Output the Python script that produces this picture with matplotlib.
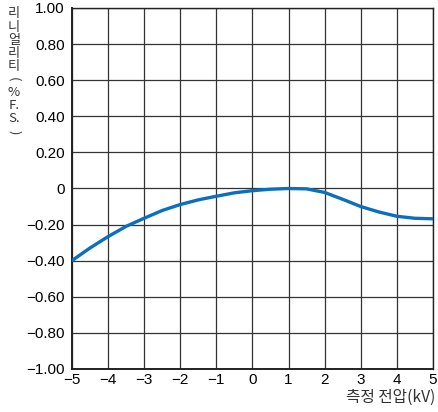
import matplotlib.pyplot as plt

plt.rcParams['font.family'] = ['Liberation Sans', 'Noto Sans CJK KR', 'DejaVu Sans']

# 측정 전압 (kV) / 리니얼리티 (%F.S.)
volt = [-5, -4.5, -4, -3.5, -3, -2.5, -2, -1.5, -1, -0.5, 0, 0.5, 1, 1.5, 2, 2.5, 3, 3.5, 4, 4.5, 5]
lin = [-0.40, -0.33, -0.267, -0.21, -0.165, -0.122, -0.089, -0.063, -0.043, -0.024, -0.012,
       -0.004, 0.0, -0.002, -0.022, -0.06, -0.10, -0.13, -0.154, -0.165, -0.168]

xticks = [-5, -4, -3, -2, -1, 0, 1, 2, 3, 4, 5]
xlabels = ['\u22125', '\u22124', '\u22123', '\u22122', '\u22121', '0', '1', '2', '3', '4', '5']
yticks = [1.0, 0.8, 0.6, 0.4, 0.2, 0, -0.2, -0.4, -0.6, -0.8, -1.0]
ylabels = ['1.00', '0.80', '0.60', '0.40', '0.20', '0', '\u22120.20', '\u22120.40',
           '\u22120.60', '\u22120.80', '\u22121.00']
ylab_chars = ['리', '니', '얼', '리', '티', '(', '%', 'F.', 'S.', ')']

fig = plt.figure(figsize=(4.38, 4.12), dpi=100)
ax = fig.add_axes([0.164, 0.1044, 0.8246, 0.8762])

ax.plot(volt, lin, color='#0a6fbf', lw=2.4, solid_capstyle='butt', zorder=3)

ax.set_xlim(-5, 5)
ax.set_ylim(-1, 1)
ax.set_xticks(xticks)
ax.set_xticklabels(xlabels)
ax.set_yticks(yticks)
ax.set_yticklabels(ylabels)
ax.tick_params(length=0, labelsize=11, pad=5)
ax.tick_params(axis='x', pad=3)
ax.grid(True, color='#333333', lw=0.9)
for s in ax.spines.values():
    s.set_color('#222222')
    s.set_linewidth(1.0)
ax.spines['left'].set_linewidth(1.4)
ax.spines['bottom'].set_linewidth(1.4)

fig.text(0.995, 0.014, '측정 전압(kV)', ha='right', va='bottom', fontsize=11.3,
         color='#333333', family=['Noto Sans CJK KR', 'DejaVu Sans'])

# vertical y label, one glyph per row, brackets turned sideways
for i, ch in enumerate(ylab_chars):
    ypx = 14 + i * 13.1
    rot = -90 if ch in '()' else 0
    fig.text(14 / 438, 1 - ypx / 412, ch, ha='center', va='center', fontsize=9.5,
             rotation=rot, color='#333333', family=['Noto Sans CJK KR', 'DejaVu Sans'])

fig.savefig('out.png', dpi=100)
